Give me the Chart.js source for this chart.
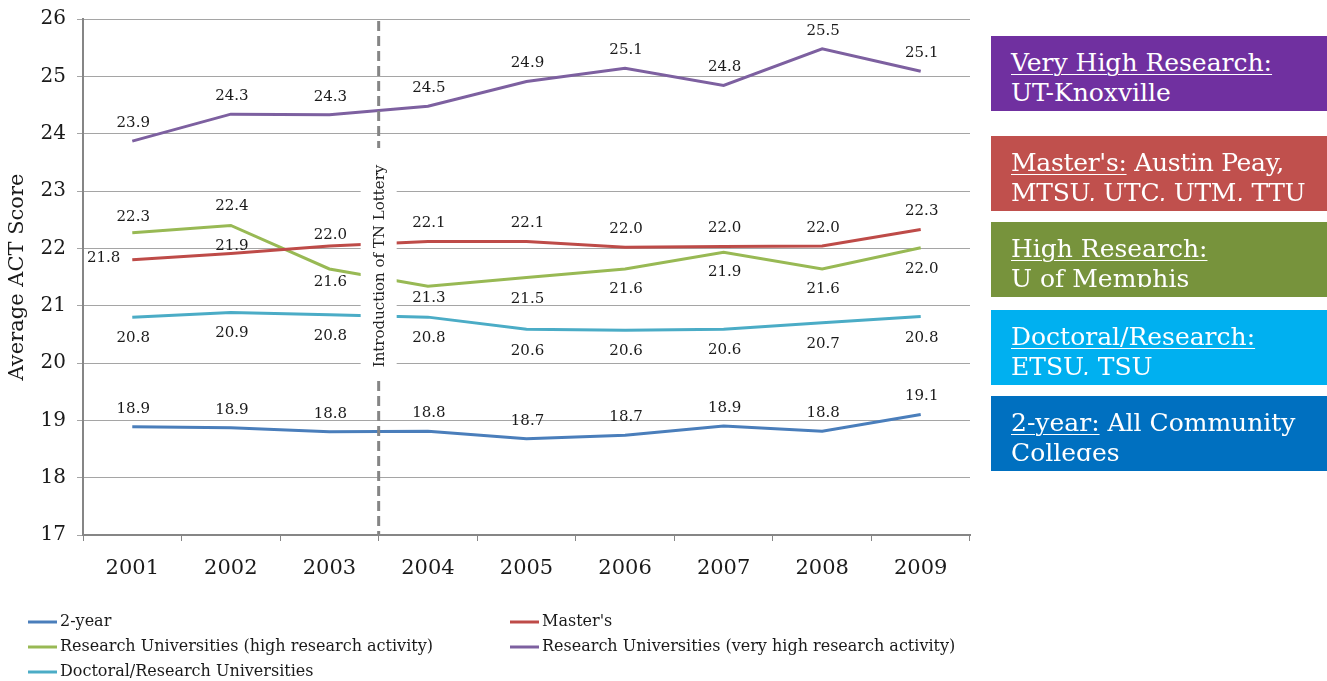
<!DOCTYPE html>
<html>
<head>
<meta charset="utf-8">
<script src="https://cdn.jsdelivr.net/npm/chart.js@4.4.1/dist/chart.umd.min.js"></script>
<style>
  html, body { margin: 0; padding: 0; background: #fff; }
  #wrap { position: relative; width: 1327px; height: 681px; overflow: hidden; }
  canvas { position: absolute; left: 0; top: 0; }
  .box { position: absolute; left: 991px; width: 336px; height: 75px; }
  .box .inner { height: 53px; overflow: hidden; padding: 12px 0 0 20px;
    font-family: "DejaVu Serif", serif; font-size: 25px; line-height: 30px; color: #fff; white-space: nowrap; }
  .box u { text-decoration-thickness: 1px; text-underline-offset: 3px; }
</style>
</head>
<body>
<div id="wrap">
  <canvas id="c" width="1327" height="681"></canvas>
  <div class="box" style="top:36px;background:#7030A0"><div class="inner"><u>Very High Research:</u><br>UT-Knoxville</div></div>
  <div class="box" style="top:136px;background:#C0504D"><div class="inner" style="letter-spacing:-0.3px"><u>Master's:</u> Austin Peay,<br>MTSU, UTC, UTM, TTU</div></div>
  <div class="box" style="top:222px;background:#77933C"><div class="inner"><u>High Research:</u><br>U of Memphis</div></div>
  <div class="box" style="top:310px;background:#00B0F0"><div class="inner"><u>Doctoral/Research:</u><br>ETSU, TSU</div></div>
  <div class="box" style="top:396px;background:#0070C0"><div class="inner"><u>2-year:</u> All Community<br>Colleges</div></div>
</div>
<script>
// ---- data ----
const years = ['2001', '2002', '2003', '2004', '2005', '2006', '2007', '2008', '2009'];
const seriesNames = [
  '2-year',
  "Master's",
  'Research Universities (high research activity)',
  'Research Universities (very high research activity)',
  'Doctoral/Research Universities'
];
const twoYear          = [18.89, 18.87, 18.80, 18.81, 18.68, 18.74, 18.90, 18.81, 19.10];
const masters          = [21.80, 21.91, 22.04, 22.12, 22.12, 22.02, 22.03, 22.04, 22.33];
const highResearch     = [22.27, 22.40, 21.64, 21.34, 21.49, 21.64, 21.93, 21.64, 22.01];
const veryHighResearch = [23.87, 24.34, 24.33, 24.48, 24.91, 25.14, 24.84, 25.48, 25.09];
const doctoral         = [20.80, 20.88, 20.84, 20.80, 20.59, 20.57, 20.59, 20.70, 20.81];
const yMin = 17, yMax = 26, yStep = 1;
const lotteryText = 'Introduction of TN Lottery';
const lotteryBetween = [2, 3]; // between 2003 and 2004

// ---- styling (label placement offsets in px; 'L' = left of point) ----
const labelOffsets = [
  [-18, -18, -18, -18, -18, -18, -18, -18, -18],
  ['L', -7, -11, -18, -18, -18, -19, -18, -18],
  [-16, -19, 13, 12, 22, 20, 20, 20, 21],
  [-18, -18, -18, -18, -18, -18, -18, -18, -18],
  [21, 21, 21, 21, 22, 21, 21, 21, 22]
];
const colors = ['#4A7EBB', '#BE4B48', '#98B954', '#7D60A0', '#4BACC6'];
const serif = '"DejaVu Serif", serif';

const labelPlugin = {
  id: 'labels',
  afterDatasetsDraw(chart) {
    const ctx = chart.ctx;
    const area = chart.chartArea;
    const xs = chart.scales.x;
    const xl = (xs.getPixelForValue(lotteryBetween[0]) + xs.getPixelForValue(lotteryBetween[1])) / 2;
    ctx.save();
    // dashed lottery line
    ctx.strokeStyle = '#858585';
    ctx.lineWidth = 3;
    ctx.setLineDash([10, 5]);
    ctx.beginPath();
    ctx.moveTo(xl, area.top + 2);
    ctx.lineTo(xl, area.bottom);
    ctx.stroke();
    ctx.setLineDash([]);
    // white box behind text
    ctx.fillStyle = '#fff';
    ctx.fillRect(xl - 18, 148, 36, 232);
    // rotated text
    ctx.translate(xl + 1, 266);
    ctx.rotate(-Math.PI / 2);
    ctx.fillStyle = '#222';
    ctx.font = '15px ' + serif;
    ctx.textAlign = 'center';
    ctx.textBaseline = 'middle';
    ctx.fillText(lotteryText, 0, 0);
    ctx.restore();

    // data labels
    ctx.save();
    ctx.font = '15px ' + serif;
    ctx.fillStyle = '#1a1a1a';
    ctx.textBaseline = 'middle';
    chart.data.datasets.forEach((ds, di) => {
      const meta = chart.getDatasetMeta(di);
      meta.data.forEach((pt, i) => {
        const txt = ds.data[i].toFixed(1);
        const off = labelOffsets[di][i];
        if (off === 'L') {
          ctx.textAlign = 'right';
          ctx.fillText(txt, pt.x - 12, pt.y - 2);
        } else {
          ctx.textAlign = 'center';
          ctx.fillText(txt, pt.x + 1, pt.y + off);
        }
      });
    });
    ctx.restore();

    // legend
    ctx.save();
    const colX = [28, 510];
    const rowY = [622, 647, 672];
    ctx.font = '16px ' + serif;
    ctx.fillStyle = '#1a1a1a';
    ctx.textAlign = 'left';
    ctx.textBaseline = 'middle';
    chart.data.datasets.forEach((ds, di) => {
      const x = colX[di % 2], y = rowY[Math.floor(di / 2)];
      ctx.strokeStyle = ds.borderColor;
      ctx.lineWidth = 3;
      ctx.beginPath();
      ctx.moveTo(x, y);
      ctx.lineTo(x + 29, y);
      ctx.stroke();
      ctx.fillText(ds.label, x + 32, y);
    });
    ctx.restore();
  }
};

const seriesData = [twoYear, masters, highResearch, veryHighResearch, doctoral];

new Chart(document.getElementById('c'), {
  type: 'line',
  data: {
    labels: years,
    datasets: seriesData.map((d, i) => ({
      label: seriesNames[i],
      data: d,
      borderColor: colors[i],
      backgroundColor: colors[i],
      borderWidth: 3,
      pointRadius: 0,
      tension: 0,
      fill: false
    }))
  },
  options: {
    responsive: false,
    animation: false,
    layout: { padding: { left: 0, right: 357, top: 19, bottom: 0 } },
    plugins: { legend: { display: false }, tooltip: { enabled: false } },
    scales: {
      x: {
        offset: true,
        grid: { offset: true, drawOnChartArea: false, drawTicks: true, tickLength: 6, color: '#868686', lineWidth: 1 },
        border: { color: '#868686', width: 2 },
        ticks: { font: { family: serif, size: 21 }, color: '#1a1a1a', padding: 15, maxRotation: 0 },
        afterFit(s) { s.height = 146; s.paddingLeft = 0; s.paddingRight = 0; }
      },
      y: {
        min: yMin, max: yMax,
        ticks: { stepSize: yStep, font: { family: serif, size: 20 }, color: '#1a1a1a', padding: 11 },
        grid: { color: '#a5a5a5', lineWidth: 1, tickLength: 6, drawTicks: true },
        border: { color: '#868686', width: 2 },
        title: { display: true, text: 'Average ACT Score', font: { family: serif, size: 21 }, color: '#1a1a1a', padding: { top: 5, bottom: 0 } },
        afterFit(s) { s.width = 83; s.paddingTop = 0; s.paddingBottom = 0; }
      }
    }
  },
  plugins: [labelPlugin]
});
</script>
</body>
</html>
